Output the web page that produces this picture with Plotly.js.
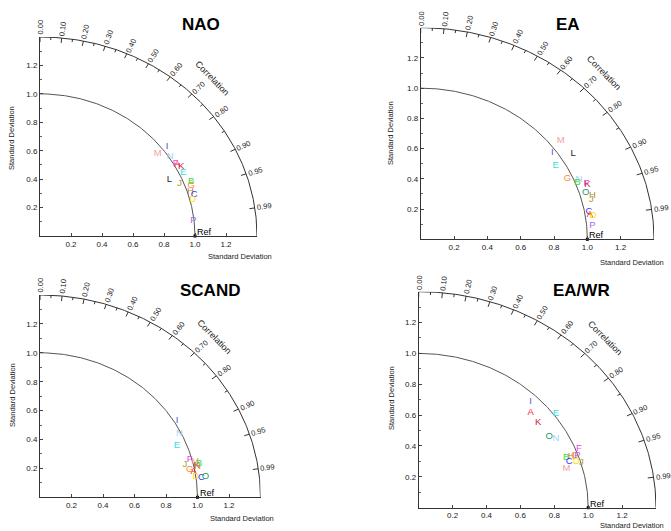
<!DOCTYPE html>
<html><head><meta charset="utf-8">
<script src="https://cdn.plot.ly/plotly-3.0.1.min.js"></script>
<style>html,body{margin:0;padding:0;background:#fff}#chart{width:671px;height:531px}</style>
</head><body><div id="chart"></div>
<script>
// ---- data (normalized standard deviation, read as x = sd*corr, y = sd*sin(acos(corr))) ----
const panelTitles = ['NAO', 'EA', 'SCAND', 'EA/WR'];

const naoLabels = ['I','M','N','F','A','K','E','L','J','B','G','H','C','D','P'];
const naoX      = [0.82,0.76,0.84,0.875,0.885,0.91,0.925,0.835,0.90,0.975,0.975,0.97,0.995,0.985,0.99];
const naoY      = [0.63,0.58,0.56,0.51,0.505,0.49,0.445,0.395,0.365,0.385,0.355,0.31,0.29,0.255,0.105];

const eaLabels = ['M','I','L','E','G','N','B','F','K','O','H','J','C','A','D','P'];
const eaX      = [0.84,0.79,0.915,0.81,0.88,0.95,0.94,0.995,1.0,0.99,1.03,1.025,1.01,1.015,1.035,1.03];
const eaY      = [0.655,0.575,0.565,0.49,0.40,0.395,0.375,0.365,0.36,0.31,0.29,0.26,0.18,0.165,0.155,0.093];

const scLabels = ['I','N','E','F','M','J','K','B','H','G','A','D','C','O'];
const scX      = [0.87,0.885,0.87,0.95,0.985,0.92,0.995,1.01,1.0,0.95,0.975,0.99,1.025,1.05];
const scY      = [0.53,0.44,0.355,0.26,0.245,0.225,0.22,0.23,0.215,0.19,0.175,0.14,0.133,0.14];

const ewLabels = ['I','A','E','K','O','N','F','B','H','G','P','C','D','J','M'];
const ewX      = [0.66,0.66,0.81,0.705,0.77,0.81,0.945,0.87,0.90,0.92,0.937,0.888,0.93,0.96,0.872];
const ewY      = [0.69,0.615,0.61,0.55,0.46,0.45,0.385,0.325,0.33,0.34,0.34,0.30,0.30,0.295,0.25];

const refSd = [1.0];
const sdArcs = [1.0, 1.4];
const corrLabels = [0.0,0.1,0.2,0.3,0.4,0.5,0.6,0.7,0.8,0.9,0.95,0.99];
const corrMinor = [0.05,0.15,0.25,0.35,0.45,0.55,0.65,0.75,0.85];
const sdTicks = [0.2,0.4,0.6,0.8,1.0,1.2];

// ---- styling ----
const letterColors = {A:'#ff2020',B:'#33dd33',C:'#3333ff',D:'#ffdd00',E:'#33e0e0',F:'#ee44ee',
  G:'#ff8833',H:'#c08830',I:'#5555cc',J:'#aaa033',K:'#cc2244',L:'#222222',M:'#f4a0a0',
  N:'#a8cff0',O:'#179a70',P:'#aa66ee'};

const W = 671, H = 531, RMAX = 1.4;
// pixel boxes of each panel's plotting area [x0,x1],[ytop,ybottom]
const boxes = [
  {x:[40,257],   y:[37,236],    title:[201,24],  ytit:[11,138],  xtit:[240,257]},
  {x:[420.7,654],y:[27.7,239.3],title:[568,24],  ytit:[391,133], xtit:[632,262]},
  {x:[40,260.5], y:[295,497.3], title:[210,291], ytit:[12,395],  xtit:[242,518]},
  {x:[418.7,656],y:[291.7,507.7],title:[581,291],ytit:[391,398], xtit:[632,525]}
];
const series = [[naoLabels,naoX,naoY],[eaLabels,eaX,eaY],[scLabels,scX,scY],[ewLabels,ewX,ewY]];

const traces = [], annotations = [], layout = {
  width: W, height: H, margin:{l:0,r:0,t:0,b:0}, showlegend:false,
  paper_bgcolor:'#fff', plot_bgcolor:'#fff', font:{family:'Liberation Sans, Arial, sans-serif', color:'#222'}
};
const fx = p => p / W, fy = p => 1 - p / H;

boxes.forEach((b, i) => {
  const n = i + 1, xa = 'x' + (n === 1 ? '' : n), ya = 'y' + (n === 1 ? '' : n);
  const xk = 'xaxis' + (n === 1 ? '' : n), yk = 'yaxis' + (n === 1 ? '' : n);
  const ux = (b.x[1] - b.x[0]) / RMAX, uy = (b.y[1] - b.y[0]) / RMAX;
  const axCommon = {range:[0,RMAX], showgrid:false, zeroline:false, showline:true, linecolor:'#333',
    linewidth:1, ticks:'inside', ticklen:3, tickcolor:'#444', tickvals:sdTicks, tickformat:'.1f',
    tickfont:{size:8, color:'#222'}, fixedrange:true};
  layout[xk] = Object.assign({}, axCommon, {domain:[fx(b.x[0]), fx(b.x[1])], anchor:ya});
  layout[yk] = Object.assign({}, axCommon, {domain:[fy(b.y[1]), fy(b.y[0])], anchor:xa,
    minor:{dtick:0.1, ticklen:2, tickcolor:'#666', ticks:'inside'}});

  // arcs of constant standard deviation
  sdArcs.forEach((r, k) => {
    const ax = [], ay = [];
    for (let a = 0; a <= 90; a += 0.5) { const t = a*Math.PI/180; ax.push(r*Math.cos(t)); ay.push(r*Math.sin(t)); }
    traces.push({type:'scatter', mode:'lines', x:ax, y:ay, xaxis:xa, yaxis:ya, hoverinfo:'skip',
      line:{color: k === 0 ? '#555' : '#333', width:1}});
  });
  // correlation ticks on outer arc
  const tx = [], ty = [];
  const addTick = (c, len) => { const t = Math.acos(c);
    tx.push(RMAX*Math.cos(t), (RMAX-len)*Math.cos(t), null); ty.push(RMAX*Math.sin(t), (RMAX-len)*Math.sin(t), null); };
  corrLabels.forEach(c => addTick(c, 0.035));
  corrMinor.forEach(c => addTick(c, 0.02));
  traces.push({type:'scatter', mode:'lines', x:tx, y:ty, xaxis:xa, yaxis:ya, hoverinfo:'skip', line:{color:'#333', width:1}});

  // correlation labels
  corrLabels.forEach(c => {
    const t = Math.acos(c), dx = Math.cos(t)*ux, dy = Math.sin(t)*uy, L = Math.hypot(dx, dy);
    const ang = Math.atan2(dy, dx) * 180 / Math.PI, s = 9.5;
    annotations.push({x:RMAX*Math.cos(t), y:RMAX*Math.sin(t), xref:xa, yref:ya, showarrow:false,
      text: c.toFixed(2), font:{size:7.5, color:'#222'}, textangle:-ang,
      xshift: dx/L*s, yshift: dy/L*s, xanchor:'center', yanchor:'middle'});
  });
  // "Correlation" label
  { const t = Math.PI/4, dx = Math.cos(t)*ux, dy = Math.sin(t)*uy, L = Math.hypot(dx, dy);
    const tang = Math.atan2(Math.cos(t)*uy, Math.sin(t)*ux) * 180 / Math.PI + 3;
    annotations.push({x:RMAX*Math.cos(t), y:RMAX*Math.sin(t), xref:xa, yref:ya, showarrow:false,
      text:'Correlation', font:{size:9, color:'#222'}, textangle:tang,
      xshift: dx/L*25, yshift: dy/L*25, xanchor:'center', yanchor:'middle'}); }

  // reference point
  traces.push({type:'scatter', mode:'markers', x:refSd, y:[0], xaxis:xa, yaxis:ya, cliponaxis:false,
    marker:{symbol:'square', size:3, color:'#000'}, hoverinfo:'skip'});
  annotations.push({x:refSd[0], y:0, xref:xa, yref:ya, showarrow:false, text:'Ref',
    font:{size:9, color:'#000'}, xanchor:'left', yanchor:'bottom', xshift:0, yshift:-3});

  // model letters
  const [lab, xs, ys] = series[i];
  traces.push({type:'scatter', mode:'text', x:xs, y:ys, text:lab, xaxis:xa, yaxis:ya, cliponaxis:false,
    textposition:'middle center', hoverinfo:'skip',
    textfont:{size:9.5, family:'Liberation Sans, Arial, sans-serif', color: lab.map(l => letterColors[l])}});

  // titles
  annotations.push({xref:'paper', yref:'paper', x:fx(b.title[0]), y:fy(b.title[1]), showarrow:false,
    text:'<b>' + panelTitles[i] + '</b>', font:{size:17, color:'#000'}, xanchor:'center', yanchor:'middle'});
  annotations.push({xref:'paper', yref:'paper', x:fx(b.ytit[0]), y:fy(b.ytit[1]), showarrow:false,
    text:'Standard Deviation', textangle:-90, font:{size:7.5, color:'#222'}, xanchor:'center', yanchor:'middle'});
  annotations.push({xref:'paper', yref:'paper', x:fx(b.xtit[0]), y:fy(b.xtit[1]), showarrow:false,
    text:'Standard Deviation', font:{size:7.5, color:'#222'}, xanchor:'center', yanchor:'middle'});
});
layout.annotations = annotations;
Plotly.newPlot('chart', traces, layout, {staticPlot:true, displayModeBar:false});
</script></body></html>
